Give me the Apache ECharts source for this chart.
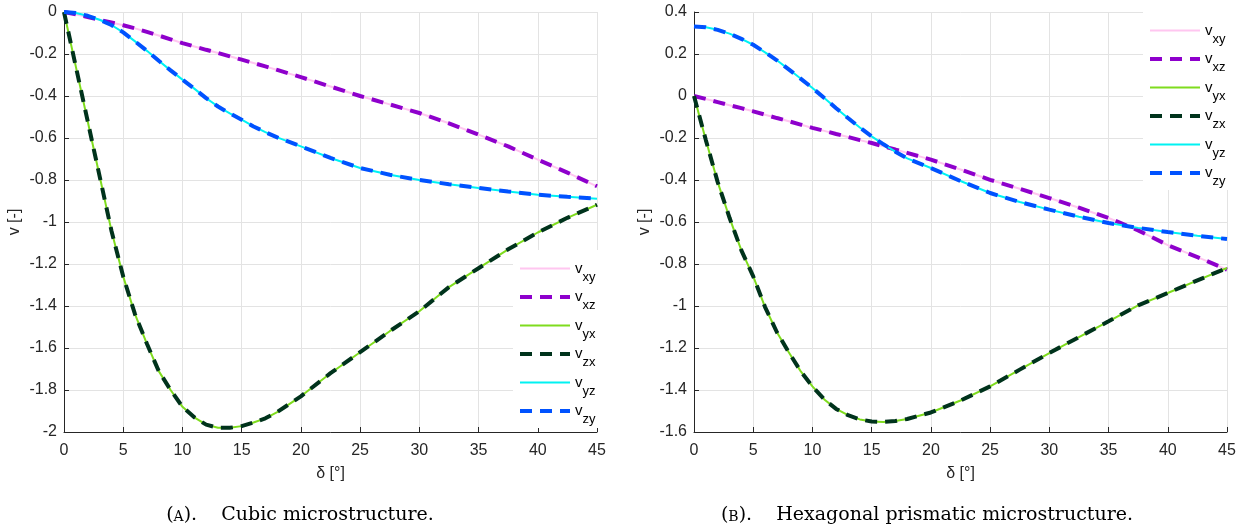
<!DOCTYPE html>
<html>
<head>
<meta charset="utf-8">
<title>Poisson ratios vs delta</title>
<script src="https://cdn.jsdelivr.net/npm/echarts@6/dist/echarts.min.js"></script>
<style>
  html, body { margin: 0; padding: 0; background: #fff; }
  #chart { width: 1243px; height: 531px; }
</style>
</head>
<body>
<div id="chart"></div>
<script>
// angle δ [°]
const delta = [0, 1, 2, 3, 4, 5, 6, 7, 8, 9, 10, 11, 12, 13, 14, 15, 16, 17, 18, 20,
  22.5, 25, 27.5, 30, 32.5, 35, 37.5, 40, 42.5, 45];

// (A) cubic microstructure
const cubicXY = [0, -0.011, -0.024, -0.037, -0.05, -0.063, -0.078, -0.095, -0.112, -0.13,
  -0.148, -0.164, -0.18, -0.195, -0.211, -0.227, -0.243, -0.259, -0.276, -0.31,
  -0.355, -0.4, -0.44, -0.481, -0.53, -0.584, -0.64, -0.703, -0.765, -0.83];
const cubicYX = [0, -0.26, -0.52, -0.78, -1.04, -1.26, -1.44, -1.58, -1.71, -1.8,
  -1.88, -1.93, -1.965, -1.98, -1.98, -1.972, -1.955, -1.935, -1.905, -1.83,
  -1.72, -1.62, -1.52, -1.425, -1.31, -1.22, -1.13, -1.05, -0.98, -0.918];
const cubicYZ = [0, -0.005, -0.018, -0.037, -0.062, -0.097, -0.14, -0.185, -0.232, -0.278,
  -0.322, -0.365, -0.41, -0.45, -0.483, -0.513, -0.545, -0.572, -0.597, -0.64,
  -0.695, -0.743, -0.775, -0.8, -0.82, -0.838, -0.855, -0.87, -0.88, -0.889];

// (B) hexagonal prismatic microstructure
const hexXY = [0, -0.014, -0.029, -0.044, -0.058, -0.073, -0.089, -0.105, -0.12, -0.136,
  -0.152, -0.166, -0.181, -0.195, -0.21, -0.224, -0.24, -0.255, -0.271, -0.303,
  -0.35, -0.399, -0.442, -0.486, -0.532, -0.581, -0.64, -0.71, -0.767, -0.827];
const hexYX = [0, -0.21, -0.41, -0.58, -0.735, -0.859, -1.005, -1.125, -1.22, -1.31,
  -1.383, -1.445, -1.49, -1.52, -1.54, -1.55, -1.552, -1.548, -1.538, -1.507,
  -1.45, -1.383, -1.303, -1.224, -1.148, -1.073, -0.997, -0.938, -0.878, -0.819];
const hexYZ = [0.331, 0.327, 0.315, 0.297, 0.272, 0.244, 0.208, 0.17, 0.127, 0.083,
  0.038, -0.01, -0.058, -0.105, -0.15, -0.192, -0.23, -0.265, -0.297, -0.343,
  -0.405, -0.462, -0.505, -0.541, -0.575, -0.605, -0.628, -0.648, -0.666, -0.681];

const xTicks = { min: 0, max: 45, interval: 5 };
const yTicksA = { min: -2, max: 0, interval: 0.2 };
const yTicksB = { min: -1.6, max: 0.4, interval: 0.2 };

const legendNames = ['xy', 'xz', 'yx', 'zx', 'yz', 'zy'];

const captionA = '{p|(}{sc|A}{p|).    Cubic microstructure.}';
const captionB = '{p|(}{sc|B}{p|).    Hexagonal prismatic microstructure.}';

// line styles, same order as legendNames
const styles = [
  { color: '#ffc6f0', width: 2, type: 'solid' },
  { color: '#8e00cc', width: 4, type: [12, 8] },
  { color: '#7fdc1e', width: 2, type: 'solid' },
  { color: '#00331c', width: 4, type: [12, 8] },
  { color: '#00f2f2', width: 2, type: 'solid' },
  { color: '#0052ff', width: 4, type: [12, 8] }
];

const AXIS_COLOR = '#262626';
const FONT = '"Liberation Sans", Arial, sans-serif';
const SERIF = '"DejaVu Serif", "Liberation Serif", serif';

const pairs = (xs, ys) => xs.map((x, i) => [x, ys[i]]);

const chart = echarts.init(document.getElementById('chart'), null, { renderer: 'canvas' });

const makeX = (gridIndex) => ({
  type: 'value',
  gridIndex,
  min: xTicks.min,
  max: xTicks.max,
  interval: xTicks.interval,
  name: 'δ [°]',
  nameLocation: 'middle',
  nameGap: 34,
  nameTextStyle: { fontFamily: FONT, fontSize: 16, color: AXIS_COLOR },
  axisLine: { show: true, onZero: false, lineStyle: { color: AXIS_COLOR, width: 1 } },
  axisTick: { show: true, inside: true, length: 5, lineStyle: { color: AXIS_COLOR } },
  axisLabel: { fontFamily: FONT, fontSize: 16, color: AXIS_COLOR, margin: 11 },
  splitLine: { show: true, lineStyle: { color: '#e3e3e3', width: 1 } }
});

const makeY = (gridIndex, t) => ({
  type: 'value',
  gridIndex,
  min: t.min,
  max: t.max,
  interval: t.interval,
  name: 'v [-]',
  nameLocation: 'middle',
  nameGap: 41,
  nameTextStyle: { fontFamily: FONT, fontSize: 16, color: AXIS_COLOR },
  axisLine: { show: true, onZero: false, lineStyle: { color: AXIS_COLOR, width: 1 } },
  axisTick: { show: true, inside: true, length: 5, lineStyle: { color: AXIS_COLOR } },
  axisLabel: {
    fontFamily: FONT, fontSize: 16, color: AXIS_COLOR, margin: 7,
    formatter: (v) => String(Math.round(v * 10) / 10)
  },
  splitLine: { show: true, lineStyle: { color: '#e3e3e3', width: 1 } }
});

const makeSeries = (idx, dataSets) => {
  // each data set drawn twice: solid then dashed on top
  const out = [];
  legendNames.forEach((name, i) => {
    const ys = dataSets[Math.floor(i / 2)];
    const s = styles[i];
    out.push({
      name,
      type: 'line',
      xAxisIndex: idx,
      yAxisIndex: idx,
      data: pairs(delta, ys),
      symbol: 'none',
      smooth: false,
      silent: true,
      z: 2 + i,
      lineStyle: { color: s.color, width: s.width, type: s.type, cap: 'butt' },
      itemStyle: { color: s.color }
    });
  });
  return out;
};

const legendRich = {
  v: { fontFamily: FONT, fontSize: 15, color: '#000', verticalAlign: 'middle' },
  s: { fontFamily: FONT, fontSize: 13, color: '#000', padding: [17, 0, 0, 0] }
};

const makeLegend = (left, top) => ({
  orient: 'vertical',
  left, top,
  width: 84,
  padding: [11, 3, 2, 5],
  backgroundColor: '#fff',
  borderWidth: 0,
  itemWidth: 50,
  itemHeight: 14,
  itemGap: 6,
  selectedMode: false,
  itemStyle: { opacity: 0 },
  lineStyle: { width: 'inherit', type: 'inherit' },
  data: legendNames,
  formatter: (name) => '{v|v}{s|' + name + '}',
  textStyle: { rich: legendRich }
});

const captionRich = {
  p: { fontFamily: SERIF, fontSize: 19, fontWeight: 'normal', color: '#000', verticalAlign: 'bottom' },
  sc: { fontFamily: SERIF, fontSize: 14, fontWeight: 'normal', color: '#000', verticalAlign: 'bottom', padding: [0, 0, 1, 0] }
};

const option = {
  backgroundColor: '#fff',
  animation: false,
  title: [
    { text: captionA, left: 300, top: 506, textAlign: 'center', padding: 0, textStyle: { fontWeight: 'normal', rich: captionRich } },
    { text: captionB, left: 927, top: 506, textAlign: 'center', padding: 0, textStyle: { fontWeight: 'normal', rich: captionRich } }
  ],
  grid: [
    { left: 64, top: 12, width: 533, height: 420, containLabel: false },
    { left: 694, top: 12, width: 533, height: 420, containLabel: false }
  ],
  xAxis: [makeX(0), makeX(1)],
  yAxis: [makeY(0, yTicksA), makeY(1, yTicksB)],
  legend: [makeLegend(513, 250), makeLegend(1143, 12)],
  series: [
    ...makeSeries(0, [cubicXY, cubicYX, cubicYZ]),
    ...makeSeries(1, [hexXY, hexYX, hexYZ])
  ]
};

chart.setOption(option);
window.addEventListener('resize', () => chart.resize());
</script>
</body>
</html>
